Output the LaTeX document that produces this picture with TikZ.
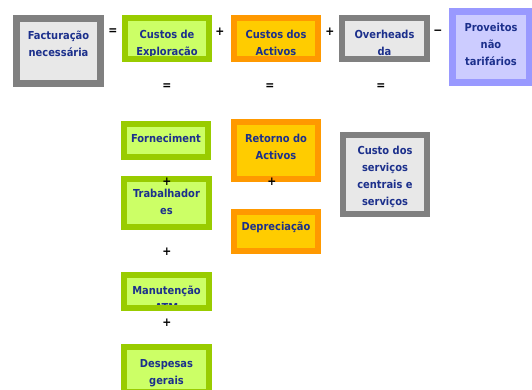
\documentclass[tikz,border=0pt]{standalone}
\usepackage{fontspec}
\setmainfont{DejaVu Sans Condensed}

\definecolor{txtblue}{RGB}{28,48,140}
\definecolor{greyline}{RGB}{128,128,128}
\definecolor{greyfill}{RGB}{232,232,232}
\definecolor{greenline}{RGB}{153,204,0}
\definecolor{greenfill}{RGB}{204,255,102}
\definecolor{orangeline}{RGB}{255,153,0}
\definecolor{orangefill}{RGB}{255,204,0}
\definecolor{blueline}{RGB}{153,153,255}
\definecolor{bluefill}{RGB}{204,204,255}

\tikzset{
  box/.style 2 args={draw=#1, fill=#2, line width=6pt, inner sep=0pt},
  greybox/.style={box={greyline}{greyfill}},
  greenbox/.style={box={greenline}{greenfill}},
  orangebox/.style={box={orangeline}{orangefill}},
  bluebox/.style={box={blueline}{bluefill}},
  boxtext/.style={font=\bfseries\fontsize{11}{17}\selectfont, text=txtblue,
    align=center, inner sep=0pt, draw=none, fill=none,
    minimum width=0pt, minimum height=0pt},
  lines/.style 2 args={path picture={
      \node[boxtext, anchor=north] at ([yshift=#1pt]path picture bounding box.north) {#2};}},
  op/.style={font=\bfseries\fontsize{12}{14}\selectfont, inner sep=0pt}
}

\begin{document}
\begin{tikzpicture}[x=1pt, y=-1pt]
  \useasboundingbox (0,0) rectangle (532,389);

  % top row
  \node[greybox, line width=7pt, minimum width=84, minimum height=65,
    lines={-8.5}{Facturação\\necessária}] (fact) at (58.5,51) {};
  \node[greenbox, minimum width=84, minimum height=41,
    lines={-9}{Custos de\\Exploração}] (expl) at (167,38.5) {};
  \node[orangebox, minimum width=84, minimum height=41,
    lines={-9}{Custos dos\\Activos}] (actv) at (276,38.5) {};
  \node[greybox, minimum width=85, minimum height=41,
    lines={-9}{Overheads\\da}] (ovh) at (384.5,38.5) {};
  \node[bluebox, line width=7pt, minimum width=77, minimum height=71,
    lines={-8.5}{Proveitos\\não\\tarifários}] (prov) at (491,47) {};

  % breakdown
  \node[greenbox, minimum width=84, minimum height=33,
    lines={-7}{Forneciment}] (forn) at (166,140.5) {};
  \node[greenbox, minimum width=85, minimum height=48,
    lines={-7}{Trabalhador\\es}] (trab) at (166.5,203) {};
  \node[greenbox, minimum width=85, minimum height=33,
    lines={-8}{Manutenção\\ATM}] (manut) at (166.5,291.5) {};
  \node[greenbox, minimum width=85, minimum height=45,
    lines={-9}{Despesas\\gerais}] (desp) at (166.5,369.5) {};
  \node[orangebox, minimum width=84, minimum height=57,
    lines={-9}{Retorno do\\Activos}] (ret) at (276,150.5) {};
  \node[orangebox, minimum width=84, minimum height=39,
    lines={-7}{Depreciação}] (depr) at (276,231.5) {};
  \node[greybox, minimum width=84, minimum height=79,
    lines={-8}{Custo dos\\serviços\\centrais e\\serviços}] (csc) at (385,174.5) {};

  \foreach \x/\y/\s [count=\i] in {113/32/=, 220/32/+, 330/32/+, 438/32/−,
      167/87/=, 270/87/=, 381/87/=, 167/182/+, 272/182/+, 167/252/+, 167/323/+}
    \node[op] (op\i) at (\x,\y) {\s};
\end{tikzpicture}
\end{document}
